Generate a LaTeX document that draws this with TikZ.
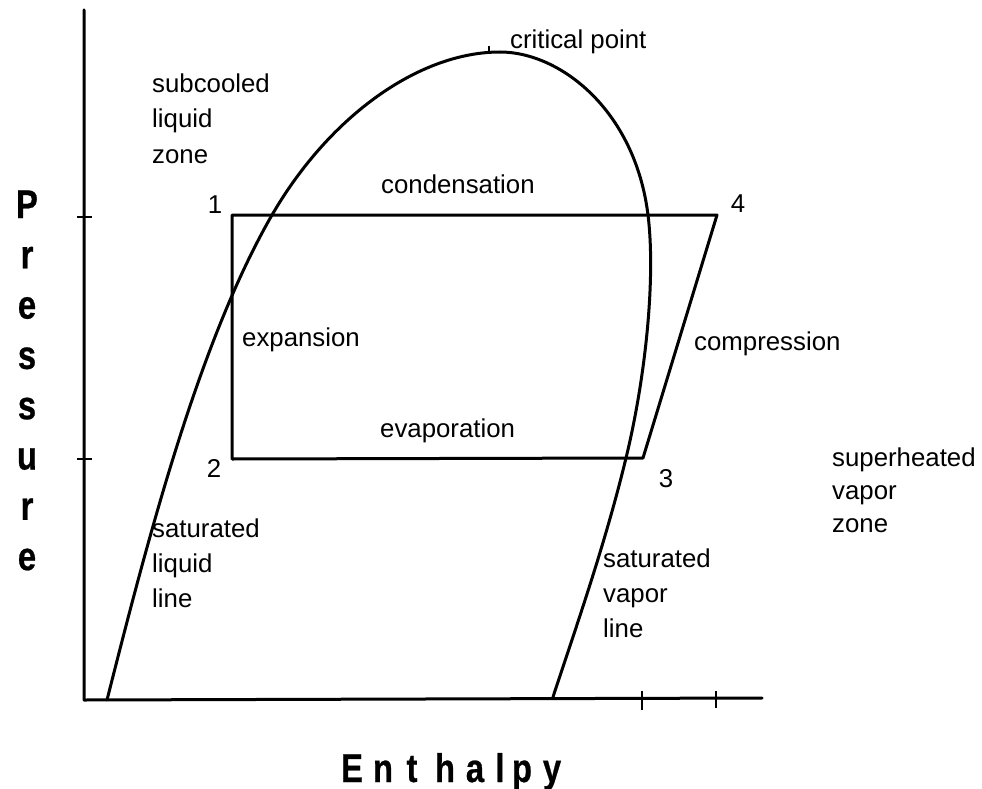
\documentclass[tikz,border=0pt]{standalone}
\usepackage{fontspec}
\setmainfont{Liberation Sans}
\newfontfamily\axfont[FakeStretch=0.82,FakeBold=0.6]{Liberation Sans}
\begin{document}
\begin{tikzpicture}[x=1pt,y=-1pt,
  thick line/.style={line width=3pt, line join=round, line cap=round},
  tick line/.style={line width=2.6pt},
  lbl/.style={font=\fontsize{25.8}{35}\selectfont, inner sep=0pt, anchor=base west},
  num/.style={font=\fontsize{25.8}{35}\selectfont, inner sep=0pt, anchor=base},
  axlbl/.style={font=\axfont\bfseries\fontsize{40}{40}\selectfont, inner sep=0pt, anchor=base}]
\useasboundingbox (0,0) rectangle (982,789);
% axes
\coordinate (ytop) at (84,10);
\coordinate (orig) at (84,700);
\coordinate (xend) at (762,698);
\draw[thick line] (ytop) -- (orig) -- (xend);
% ticks
\coordinate (ty1a) at (77,217); \coordinate (ty1b) at (92,217);
\coordinate (ty2a) at (77,459); \coordinate (ty2b) at (92,459);
\coordinate (tx1a) at (642,691); \coordinate (tx1b) at (642,710);
\coordinate (tx2a) at (716,691); \coordinate (tx2b) at (716,708);
\draw[tick line] (ty1a) -- (ty1b) (ty2a) -- (ty2b) (tx1a) -- (tx1b) (tx2a) -- (tx2b);
% saturation dome
\coordinate (domeL) at (107,700);
\coordinate (cross1) at (272,215);
\coordinate (top) at (500,52);
\coordinate (cross4) at (648,215);
\coordinate (cross3) at (626,458);
\coordinate (domeR) at (553,697);
\draw[thick line] (domeL) .. controls (150,530) and (200,340) .. (cross1)
  .. controls (330,115) and (420,52) .. (top)
  .. controls (560,52) and (635,110) .. (cross4)
  .. controls (656,280) and (645,380) .. (cross3)
  .. controls (605,545) and (575,630) .. (domeR);
% critical point tick
\coordinate (cpa) at (489,46); \coordinate (cpb) at (489,53);
\draw[tick line] (cpa) -- (cpb);
% cycle
\coordinate (p1) at (232,215);
\coordinate (p4) at (717,215);
\coordinate (p3) at (643,458);
\coordinate (p2) at (232,459);
\draw[thick line] (p2) -- (p1) -- (p4) -- (p3) -- cycle;
% labels
\node[lbl] (crit) at (510,49) {critical point};
\node[lbl] (sub1) at (152,93) {subcooled};
\node[lbl] (sub2) at (152,128) {liquid};
\node[lbl] (sub3) at (152,163) {zone};
\node[lbl] (cond) at (381,193) {condensation};
\node[num] (n1) at (215,213) {1};
\node[num] (n4) at (738,212) {4};
\node[num] (n2) at (214,477) {2};
\node[num] (n3) at (666,487) {3};
\node[lbl] (expn) at (242,346) {expansion};
\node[lbl] (comp) at (694,350) {compression};
\node[lbl] (evap) at (380,437) {evaporation};
\node[lbl] (sh1) at (832,466) {superheated};
\node[lbl] (sh2) at (832,499) {vapor};
\node[lbl] (sh3) at (832,532) {zone};
\node[lbl] (sl1) at (152,537) {saturated};
\node[lbl] (sl2) at (152,572) {liquid};
\node[lbl] (sl3) at (152,607) {line};
\node[lbl] (sv1) at (603,567) {saturated};
\node[lbl] (sv2) at (603,602) {vapor};
\node[lbl] (sv3) at (603,637) {line};
% axis titles
\foreach \ch [count=\i from 0] in {P,r,e,s,s,u,r,e}
  \node[axlbl] (pr\i) at (27,218+50.3*\i) {\ch};
\foreach \ch/\xx [count=\i] in {E/352,n/383,t/412,h/445,a/475,l/500,p/522,y/552}
  \node[axlbl] (en\i) at (\xx,782) {\ch};
\end{tikzpicture}
\end{document}
